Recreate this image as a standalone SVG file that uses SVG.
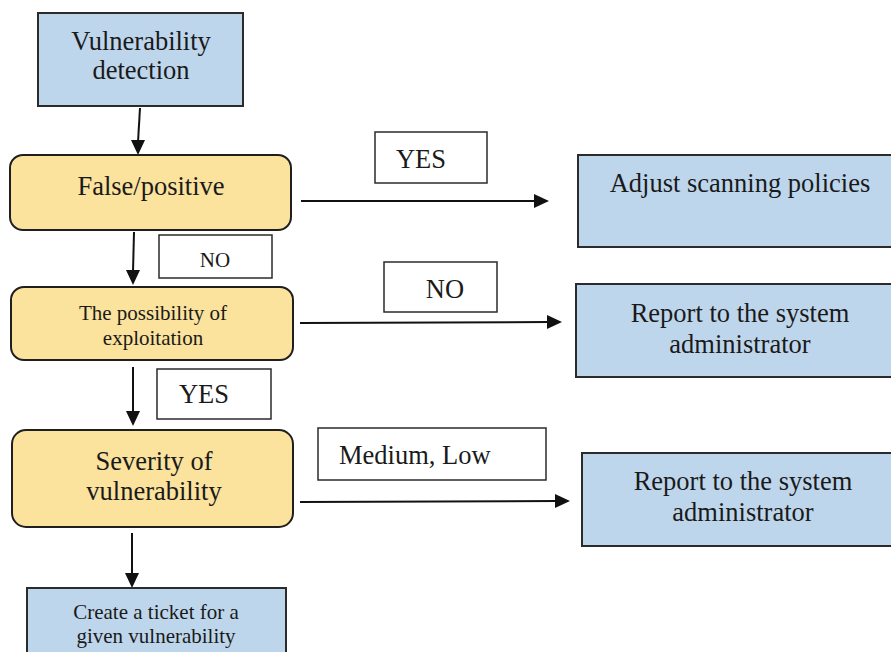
<svg xmlns="http://www.w3.org/2000/svg" width="891" height="652" viewBox="0 0 891 652">
<defs>
<style>
.blue{fill:#bed6ec;stroke:#2b2b2b;stroke-width:2}
.yel{fill:#fbe29d;stroke:#1f1f1f;stroke-width:2}
.lbl{fill:#ffffff;stroke:#2b2b2b;stroke-width:1.5}
text{font-family:"Liberation Serif","Times New Roman",serif;fill:#1a1a1a;text-anchor:middle}
.l{font-size:26.5px}
.s{font-size:21px}
.ln{stroke:#111;stroke-width:2;fill:none}
.hd{fill:#111}
</style>
</defs>
<rect width="891" height="652" fill="#ffffff"/>
<g id="connectors">
<line class="ln" x1="140" y1="108" x2="138" y2="142"/>
<path class="hd" d="M131,140 L145,140 L138,155 z"/>
<line class="ln" x1="301" y1="201" x2="536" y2="201"/>
<path class="hd" d="M534,194 L549,201 L534,208 z"/>
<line class="ln" x1="134" y1="232" x2="133" y2="272"/>
<path class="hd" d="M126,270 L140,270 L133,285 z"/>
<line class="ln" x1="300" y1="323" x2="549" y2="322"/>
<path class="hd" d="M547,315 L562,322 L547,329 z"/>
<line class="ln" x1="133" y1="367" x2="133" y2="413"/>
<path class="hd" d="M126,411 L140,411 L133,426 z"/>
<line class="ln" x1="300" y1="502" x2="557" y2="501"/>
<path class="hd" d="M555,494 L570,501 L555,508 z"/>
<line class="ln" x1="132" y1="533" x2="132" y2="574"/>
<path class="hd" d="M125,573 L139,573 L132,588 z"/>
</g>
<g id="n-detect">
<rect class="blue" x="38" y="13" width="205" height="93"/>
<text class="l" x="141" y="50">Vulnerability</text>
<text class="l" x="141" y="79">detection</text>
</g>
<g id="n-falsepos">
<rect class="yel" x="10" y="155" width="281" height="75" rx="13"/>
<text class="l" x="151" y="195">False/positive</text>
</g>
<g id="l-yes1">
<rect class="lbl" x="375" y="132" width="112" height="51"/>
<text class="l" x="421" y="168">YES</text>
</g>
<g id="n-adjust">
<rect class="blue" x="578" y="155" width="316" height="92"/>
<text class="l" x="740" y="192">Adjust scanning policies</text>
</g>
<g id="l-no1">
<rect class="lbl" x="159" y="235" width="113" height="43"/>
<text class="s" x="215" y="267">NO</text>
</g>
<g id="n-possibility">
<rect class="yel" x="11" y="287" width="282" height="73" rx="13"/>
<text class="s" x="153" y="320">The possibility of</text>
<text class="s" x="153" y="345">exploitation</text>
</g>
<g id="l-no2">
<rect class="lbl" x="384" y="262" width="113" height="50"/>
<text class="l" x="445" y="298">NO</text>
</g>
<g id="n-report1">
<rect class="blue" x="576" y="284" width="318" height="93"/>
<text class="l" x="740" y="322">Report to the system</text>
<text class="l" x="740" y="353">administrator</text>
</g>
<g id="l-yes2">
<rect class="lbl" x="157" y="369" width="114" height="50"/>
<text class="l" x="204" y="403">YES</text>
</g>
<g id="n-severity">
<rect class="yel" x="12" y="430" width="281" height="97" rx="14"/>
<text class="l" x="154" y="470">Severity of</text>
<text class="l" x="154" y="500">vulnerability</text>
</g>
<g id="l-medlow">
<rect class="lbl" x="318" y="428" width="228" height="52"/>
<text class="l" x="339" y="464" style="text-anchor:start">Medium, Low</text>
</g>
<g id="n-report2">
<rect class="blue" x="582" y="453" width="312" height="93"/>
<text class="l" x="743" y="490">Report to the system</text>
<text class="l" x="743" y="521">administrator</text>
</g>
<g id="n-ticket">
<rect class="blue" x="27" y="588" width="259" height="70"/>
<text class="s" x="156" y="619">Create a ticket for a</text>
<text class="s" x="156" y="643">given vulnerability</text>
</g>
</svg>
